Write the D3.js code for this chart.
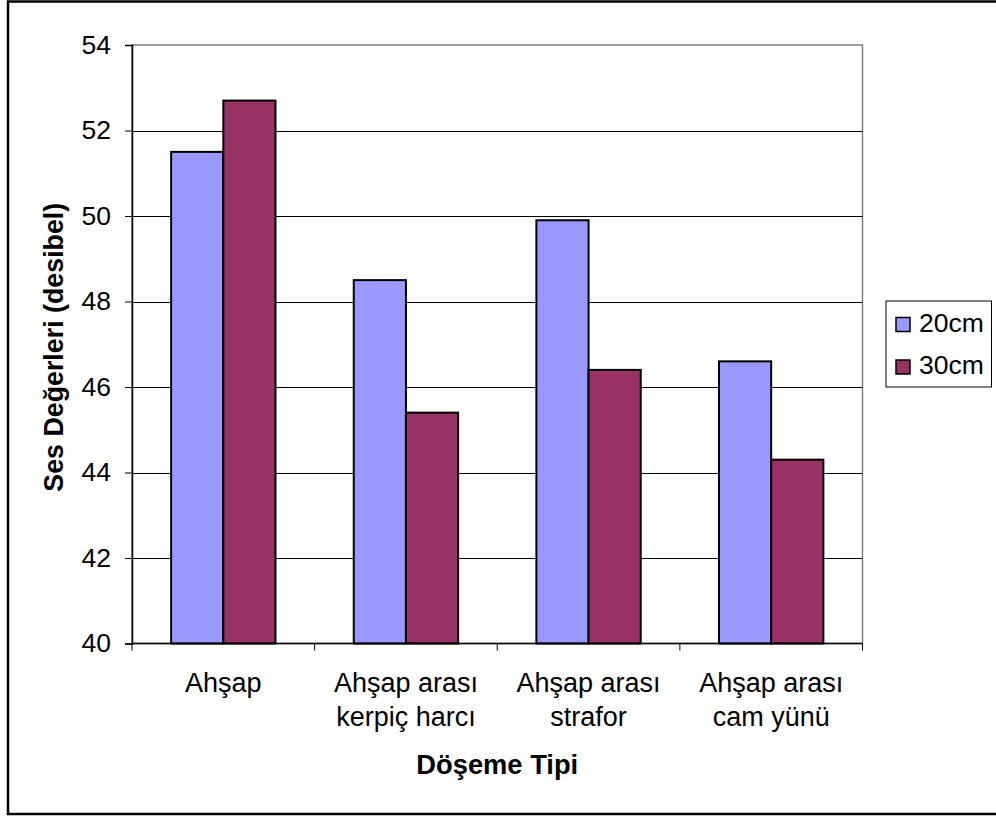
<!DOCTYPE html>
<html>
<head>
<meta charset="utf-8">
<script src="https://cdn.jsdelivr.net/npm/d3@7"></script>
<style>
  html, body { margin: 0; padding: 0; background: #fff; }
  svg { display: block; font-family: Arial, "Liberation Sans", sans-serif; }
</style>
</head>
<body>
<svg id="chart" width="996" height="818"></svg>
<script>
// Floor types (two-line labels) and sound levels in decibels
const categories = [
  ["Ahşap"],
  ["Ahşap arası", "kerpiç harcı"],
  ["Ahşap arası", "strafor"],
  ["Ahşap arası", "cam yünü"]
];
const seriesNames = ["20cm", "30cm"];
const values20 = [51.5, 48.5, 49.9, 46.6];
const values30 = [52.7, 45.4, 46.4, 44.3];
const yTicks = [40, 42, 44, 46, 48, 50, 52, 54];
const colors = ["#9999FF", "#993366"];

const svg = d3.select("#chart");
const plot = { left: 132, top: 45, right: 862.5, bottom: 643.5 };

// outer chart frame
svg.append("rect")
  .attr("x", 8).attr("y", 1.5)
  .attr("width", 1000).attr("height", 812.5)
  .attr("fill", "none").attr("stroke", "#000").attr("stroke-width", 2.5);

const x = d3.scaleBand()
  .domain(d3.range(categories.length))
  .range([plot.left, plot.right])
  .paddingInner(0).paddingOuter(0);

const y = d3.scaleLinear().domain([40, 54]).range([plot.bottom, plot.top]);

// plot area border (gray)
svg.append("rect")
  .attr("x", plot.left).attr("y", plot.top)
  .attr("width", plot.right - plot.left).attr("height", plot.bottom - plot.top)
  .attr("fill", "none").attr("stroke", "#808080").attr("stroke-width", 1.5);

// horizontal gridlines
svg.append("g").selectAll("line")
  .data(yTicks.filter(t => t > 40 && t < 54))
  .join("line")
  .attr("x1", plot.left).attr("x2", plot.right)
  .attr("y1", d => Math.round(y(d)) + 0.5).attr("y2", d => Math.round(y(d)) + 0.5)
  .attr("stroke", "#000").attr("stroke-width", 1);

// bars: two series side by side within each category band
const barW = x.bandwidth() / 3.5;
[values20, values30].forEach((vals, s) => {
  svg.append("g").selectAll("rect")
    .data(vals)
    .join("rect")
    .attr("x", (d, i) => x(i) + x.bandwidth() / 2 - barW + s * barW)
    .attr("y", d => y(d))
    .attr("width", barW)
    .attr("height", d => y(40) - y(d))
    .attr("fill", colors[s])
    .attr("stroke", "#000")
    .attr("stroke-width", 2);
});

// y axis
const yAxis = d3.axisLeft(y).tickValues(yTicks).tickSize(7).tickPadding(14).tickFormat(d3.format("d"));
const gy = svg.append("g").attr("transform", `translate(${plot.left},0)`).call(yAxis);
gy.select(".domain").attr("stroke", "#000").attr("stroke-width", 1.5);
gy.selectAll(".tick line").attr("stroke", "#000");
gy.selectAll(".tick text")
  .attr("font-size", 26.5).attr("fill", "#000")
  .attr("font-family", "Arial, 'Liberation Sans', sans-serif");

// x axis (ticks at category boundaries)
const xAxisLine = svg.append("g");
xAxisLine.append("line")
  .attr("x1", plot.left).attr("x2", plot.right)
  .attr("y1", plot.bottom).attr("y2", plot.bottom)
  .attr("stroke", "#000").attr("stroke-width", 1.5);
xAxisLine.selectAll("line.tick")
  .data(d3.range(categories.length + 1))
  .join("line")
  .attr("class", "tick")
  .attr("x1", i => i < categories.length ? x(i) : plot.right)
  .attr("x2", i => i < categories.length ? x(i) : plot.right)
  .attr("y1", plot.bottom).attr("y2", plot.bottom + 7)
  .attr("stroke", "#000").attr("stroke-width", 1);

// category labels
const labels = svg.append("g").selectAll("text")
  .data(categories)
  .join("text")
  .attr("x", (d, i) => x(i) + x.bandwidth() / 2)
  .attr("y", 692)
  .attr("text-anchor", "middle")
  .attr("font-size", 27)
  .attr("fill", "#000");
labels.selectAll("tspan")
  .data(d => d)
  .join("tspan")
  .attr("x", function () { return d3.select(this.parentNode).attr("x"); })
  .attr("dy", (d, i) => i === 0 ? 0 : 34)
  .text(d => d);

// axis titles
svg.append("text")
  .attr("x", (plot.left + plot.right) / 2)
  .attr("y", 774)
  .attr("text-anchor", "middle")
  .attr("font-size", 27.3).attr("font-weight", "bold")
  .text("Döşeme Tipi");

svg.append("text")
  .attr("transform", `translate(63,${(plot.top + plot.bottom) / 2 + 3}) rotate(-90)`)
  .attr("text-anchor", "middle")
  .attr("font-size", 26.8).attr("font-weight", "bold")
  .text("Ses Değerleri (desibel)");

// legend
const legend = svg.append("g");
legend.append("rect")
  .attr("x", 886).attr("y", 301)
  .attr("width", 105.5).attr("height", 86)
  .attr("fill", "#fff").attr("stroke", "#000").attr("stroke-width", 1);
seriesNames.forEach((name, i) => {
  const cy = 324.5 + i * 42.5;
  legend.append("rect")
    .attr("x", 896).attr("y", cy - 7)
    .attr("width", 14).attr("height", 14)
    .attr("fill", colors[i]).attr("stroke", "#000").attr("stroke-width", 1.5);
  legend.append("text")
    .attr("x", 919).attr("y", cy + 7)
    .attr("font-size", 26.5)
    .text(name);
});
</script>
</body>
</html>
